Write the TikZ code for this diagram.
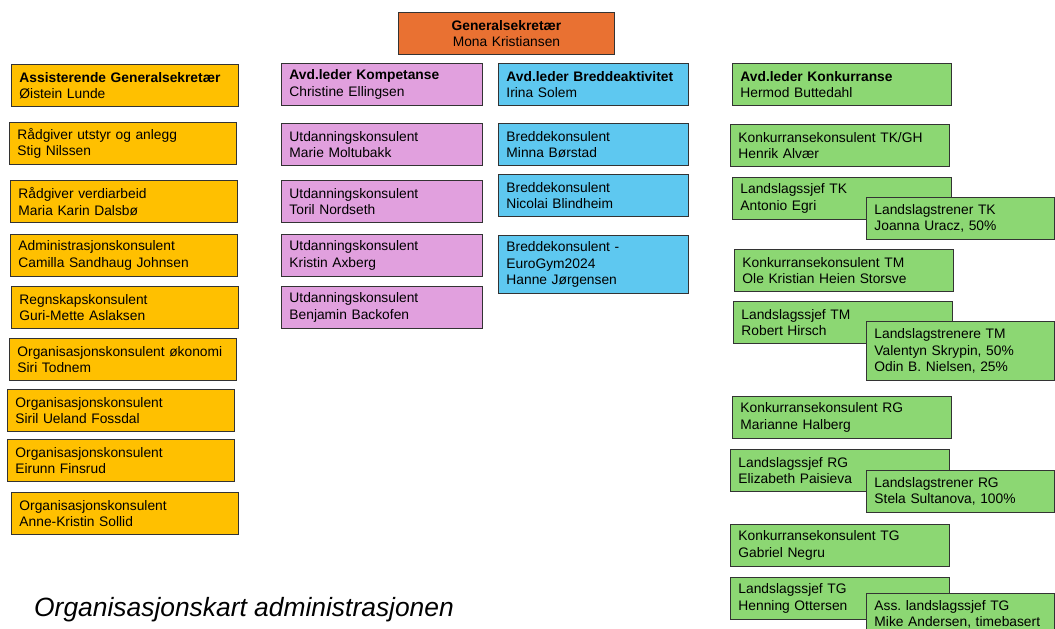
\documentclass[tikz,border=0pt]{standalone}
\usepackage{fontspec}
\setmainfont{Liberation Sans}

\definecolor{gsorange}{RGB}{233,113,50}
\definecolor{stabyellow}{RGB}{255,192,0}
\definecolor{kompink}{RGB}{225,160,222}
\definecolor{breddeblue}{RGB}{94,200,240}
\definecolor{konkgreen}{RGB}{140,215,115}

\begin{document}
\begin{tikzpicture}[x=1pt, y=-1pt,
  every box/.style={draw=black!80, line width=0.9pt, anchor=north west, align=left,
    inner xsep=8pt, inner ysep=2pt, minimum height=42pt,
    font=\fontsize{13.8}{16.4}\selectfont\frenchspacing},
  stab box/.style={every box, fill=stabyellow, text width=211pt},
  komp box/.style={every box, fill=kompink, text width=185pt},
  bredde box/.style={every box, fill=breddeblue, text width=174pt},
  konk box/.style={every box, fill=konkgreen, text width=203pt},
  trener box/.style={every box, fill=konkgreen, text width=172pt}]

\useasboundingbox (0,0) rectangle (1055,629);

\node [every box, fill=gsorange, align=center, text width=200pt] (gs) at (398,12)
  {\textbf{Generalsekretær}\\Mona Kristiansen};

% avdelingsledere
\node [stab box] (stab-0) at (11,64) {\textbf{Assisterende Generalsekretær}\\Øistein Lunde};
\node [komp box] (komp-0) at (281,63) {\textbf{Avd.leder Kompetanse}\\Christine Ellingsen};
\node [bredde box] (bredde-0) at (498,63) {\textbf{Avd.leder Breddeaktivitet}\\Irina Solem};
\node [konk box] (konk-0) at (732,63) {\textbf{Avd.leder Konkurranse}\\Hermod Buttedahl};

\foreach \x/\y/\t/\n [count=\i] in {
    9/122/{Rådgiver utstyr og anlegg}/{Stig Nilssen},
    10/180/{Rådgiver verdiarbeid}/{Maria Karin Dalsbø},
    10/234/{Administrasjonskonsulent}/{Camilla Sandhaug Johnsen},
    11/286/{Regnskapskonsulent}/{Guri-Mette Aslaksen},
    9/338/{Organisasjonskonsulent økonomi}/{Siri Todnem},
    7/389/{Organisasjonskonsulent}/{Siril Ueland Fossdal},
    7/439/{Organisasjonskonsulent}/{Eirunn Finsrud},
    11/492/{Organisasjonskonsulent}/{Anne-Kristin Sollid}}
  \node [stab box] (stab-\i) at (\x,\y) {\t\\\n};

\foreach \y/\n [count=\i] in {123/{Marie Moltubakk}, 180/{Toril Nordseth},
    234/{Kristin Axberg}, 286/{Benjamin Backofen}}
  \node [komp box] (komp-\i) at (281,\y) {Utdanningskonsulent\\\n};

\foreach \y/\h/\t/\n [count=\i] in {
    123/42/{Breddekonsulent}/{Minna Børstad},
    174/42/{Breddekonsulent}/{Nicolai Blindheim},
    235/58/{Breddekonsulent -\\EuroGym2024}/{Hanne Jørgensen}}
  \node [bredde box, minimum height=\h pt] (bredde-\i) at (498,\y) {\t\\\n};

\foreach \x/\y/\t/\n [count=\i] in {
    730/124/{Konkurransekonsulent TK/GH}/{Henrik Alvær},
    732/177/{Landslagssjef TK}/{Antonio Egri},
    734/249/{Konkurransekonsulent TM}/{Ole Kristian Heien Storsve},
    733/301/{Landslagssjef TM}/{Robert Hirsch},
    732/396/{Konkurransekonsulent RG}/{Marianne Halberg},
    730/449/{Landslagssjef RG}/{Elizabeth Paisieva},
    730/524/{Konkurransekonsulent TG}/{Gabriel Negru},
    730/577/{Landslagssjef TG}/{Henning Ottersen}}
  \node [konk box] (konk-\i) at (\x,\y) {\t\\\n};

\foreach \y/\h/\t/\n [count=\i] in {
    197/42/{Landslagstrener TK}/{Joanna Uracz, 50\%},
    321/59/{Landslagstrenere TM}/{Valentyn Skrypin, 50\%\\Odin B. Nielsen, 25\%},
    470/42/{Landslagstrener RG}/{Stela Sultanova, 100\%},
    593/42/{Ass.\ landslagssjef TG}/{Mike Andersen, timebasert}}
  \node [trener box, minimum height=\h pt] (trener-\i) at (866,\y) {\t\\\n};

\node [anchor=base west, inner sep=0pt, font=\fontsize{26.4}{30}\selectfont\itshape]
  (tittel) at (34,616) {Organisasjonskart administrasjonen};

\end{tikzpicture}
\end{document}
